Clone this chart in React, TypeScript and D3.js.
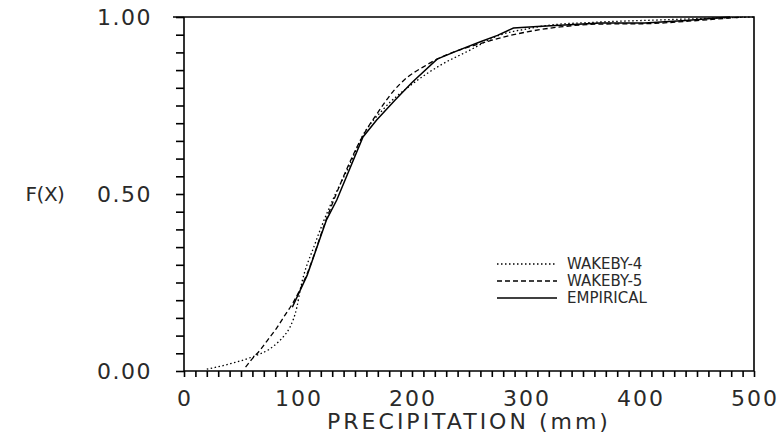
import React, { useEffect, useRef } from 'react';
import * as d3 from 'd3';

// precipitation (mm) and cumulative probability
const empiricalX = [95, 108, 125, 134, 157, 169, 185, 200, 222, 240, 260, 275, 289, 310, 330, 365, 404, 440, 479];
const empiricalY = [0.18, 0.27, 0.427, 0.483, 0.661, 0.709, 0.765, 0.815, 0.881, 0.905, 0.93, 0.948, 0.969, 0.973, 0.977, 0.983, 0.983, 0.99, 1.0];

const wakeby4X = [20, 40, 60, 75, 82, 88, 93, 99, 102, 115, 130, 145, 156, 175, 200, 225, 250, 277, 300, 321, 360, 420, 500];
const wakeby4Y = [0.005, 0.02, 0.04, 0.062, 0.08, 0.1, 0.124, 0.18, 0.23, 0.36, 0.48, 0.58, 0.66, 0.74, 0.81, 0.864, 0.905, 0.949, 0.966, 0.977, 0.985, 0.992, 1.0];

const wakeby5X = [54, 60, 67, 74, 81, 88, 96, 108, 125, 140, 157, 170, 183, 196, 210, 222, 240, 260, 280, 301, 330, 365, 404, 450, 490];
const wakeby5Y = [0.011, 0.035, 0.06, 0.09, 0.12, 0.155, 0.195, 0.275, 0.43, 0.55, 0.665, 0.73, 0.788, 0.83, 0.859, 0.881, 0.905, 0.925, 0.943, 0.958, 0.972, 0.98, 0.981, 0.99, 1.0];

const xTickLabels = [0, 100, 200, 300, 400, 500];
const yTickLabels = [0, 0.5, 1];

const legendItems = ['WAKEBY-4', 'WAKEBY-5', 'EMPIRICAL'];
const legendDash = ['1.5,2.5', '5,3', null];

const font = "'DejaVu Sans', sans-serif";

const App = () => {
  const svgRef = useRef<SVGSVGElement>(null);
  const width = 780;
  const height = 440;
  const left = 184;
  const right = 754;
  const top = 17;
  const bottom = 371;

  const x = d3.scaleLinear().domain([0, 500]).range([left, right]);
  const y = d3.scaleLinear().domain([0, 1]).range([bottom, top]);

  useEffect(() => {
    const svg = d3.select(svgRef.current);
    svg.selectAll('.ticks').remove();

    // minor ticks every 0.05 on y, every 10 mm on x
    svg.append('g')
      .attr('class', 'ticks')
      .attr('transform', `translate(${left},0)`)
      .call(d3.axisLeft(y).tickValues(d3.range(0, 21).map(i => i / 20)).tickSize(8).tickFormat(() => ''))
      .call(g => g.select('.domain').remove())
      .selectAll('line').attr('stroke', '#000').attr('stroke-width', 1.6);

    svg.append('g')
      .attr('class', 'ticks')
      .attr('transform', `translate(0,${bottom})`)
      .call(d3.axisBottom(x).tickValues(d3.range(0, 51).map(i => i * 10)).tickSize(6).tickFormat(() => ''))
      .call(g => g.select('.domain').remove())
      .selectAll('line').attr('stroke', '#000').attr('stroke-width', 1.6);
  }, []);

  const line = d3.line<[number, number]>()
    .x(d => x(d[0]))
    .y(d => y(d[1]))
    .curve(d3.curveLinear);

  const smooth = d3.line<[number, number]>()
    .x(d => x(d[0]))
    .y(d => y(d[1]))
    .curve(d3.curveMonotoneX);

  const series = [
    { xs: wakeby4X, ys: wakeby4Y, dash: legendDash[0], w: 1.3, curve: true },
    { xs: wakeby5X, ys: wakeby5Y, dash: legendDash[1], w: 1.3, curve: true },
    { xs: empiricalX, ys: empiricalY, dash: null, w: 1.5, curve: false },
  ];

  const label = { fontFamily: font, fill: '#2a2a2a' };

  return (
    <svg ref={svgRef} width={width} height={height} style={{ position: 'absolute', left: 0, top: 0, background: '#fff' }}>
      {/* frame */}
      <path d={`M${left - 11},${top}H${right}V${bottom}H${left}V${top}`} fill="none" stroke="#000" strokeWidth={1.6} />

      {yTickLabels.map(v => (
        <text key={'yl' + v} x={152} y={y(v)} dy="0.36em" textAnchor="end" fontSize={22} letterSpacing={1.5} {...label}>
          {v.toFixed(2)}
        </text>
      ))}
      {xTickLabels.map(v => (
        <text key={'xl' + v} x={x(v) + 1} y={406} textAnchor="middle" fontSize={22} letterSpacing={2} {...label}>
          {v}
        </text>
      ))}

      <text x={45} y={y(0.5)} dy="0.36em" textAnchor="middle" fontSize={20} letterSpacing={-0.5} {...label}>F(X)</text>
      <text x={469} y={429} textAnchor="middle" fontSize={22} letterSpacing={3} {...label}>PRECIPITATION  (mm)</text>

      {/* curves */}
      {series.map((s, i) => {
        const pts: [number, number][] = s.xs.map((v, j) => [v, s.ys[j]]);
        return (
          <path key={'s' + i} d={(s.curve ? smooth(pts) : line(pts)) || ''} fill="none" stroke="#000"
            strokeWidth={s.w} strokeDasharray={s.dash || undefined} />
        );
      })}

      {/* legend */}
      {legendItems.map((name, i) => (
        <g key={'lg' + i} transform={`translate(497,${264 + i * 17})`}>
          <line x1={0} x2={60} y1={0} y2={0} stroke="#000" strokeWidth={1.3} strokeDasharray={legendDash[i] || undefined} />
          <text x={70} y={0} dy="0.36em" fontSize={15} {...label}>{name}</text>
        </g>
      ))}
    </svg>
  );
};

export default App;
